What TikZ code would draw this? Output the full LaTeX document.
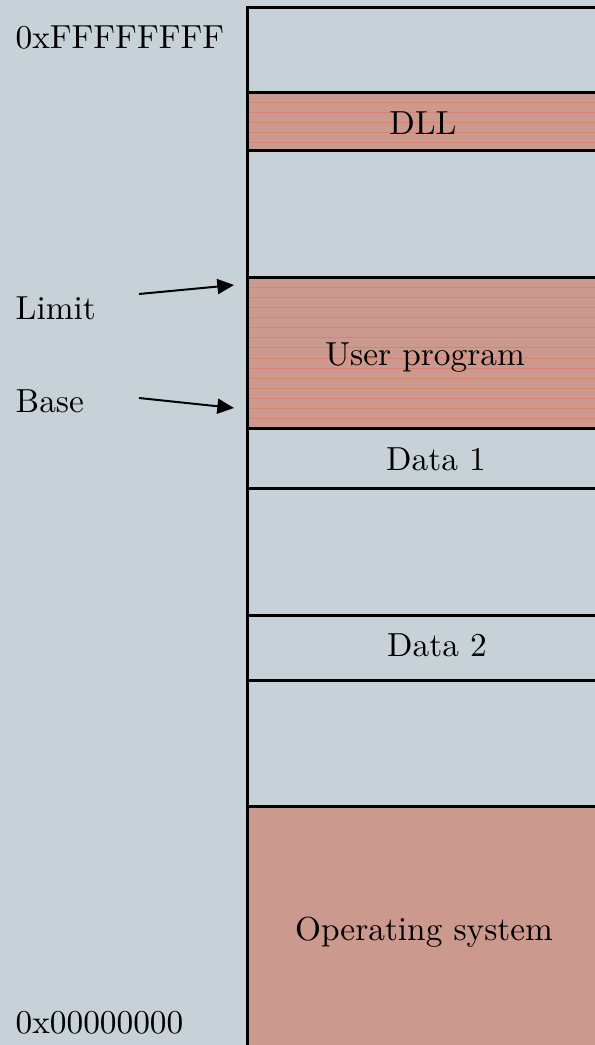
\documentclass[tikz,border=0pt]{standalone}
\usetikzlibrary{arrows.meta}
\definecolor{slate}{HTML}{C6D2D8}
\definecolor{rust}{HTML}{CC998F}
\definecolor{stripe}{HTML}{D98272}

\begin{document}
\begin{tikzpicture}[x=0.3pt, y=-0.3pt,
  slot/.style={draw=black, line width=0.9pt},
  used/.style={slot, fill=rust},
  lbl/.style={anchor=base, inner sep=0pt},
  addr/.style={anchor=base west, inner sep=0pt},
  ptr/.style={-{Triangle[length=5pt,width=4.5pt]}, line width=0.6pt}]
\useasboundingbox (0,0) rectangle (595,1045);
\fill[slate] (0,0) rectangle (595,1045);

% the address space
\draw[slot] (247,8) rectangle (610,93);
\fill[rust] (247,93) rectangle (610,151);
\fill[rust] (247,278) rectangle (610,428);
\foreach \y in {103,113,...,143} \draw[stripe, line width=0.3pt] (249,\y) -- (610,\y);
\foreach \y in {288,298,...,420} \draw[stripe, line width=0.3pt] (249,\y) -- (610,\y);
\draw[slot] (247,93) rectangle (610,151);
\draw[slot] (247,151) rectangle (610,278);
\draw[slot] (247,278) rectangle (610,428);
\draw[slot] (247,428) rectangle (610,488);
\draw[slot] (247,488) rectangle (610,615);
\draw[slot] (247,615) rectangle (610,680);
\draw[slot] (247,680) rectangle (610,806);
\draw[used] (247,806) rectangle (610,1060);

\node[lbl] (dll) at (423,135) {DLL};
\node[lbl] (user) at (425,366) {User program};
\node[lbl] (data1) at (436,470) {Data 1};
\node[lbl] (data2) at (437,656) {Data 2};
\node[lbl] (os) at (424,940) {Operating system};

% addresses and registers
\node[addr] (top) at (15,49) {0xFFFFFFFF};
\node[addr] (bottom) at (15,1033) {0x00000000};
\node[addr] (limit) at (15,319) {Limit};
\node[addr] (base) at (15,412) {Base};

\coordinate (limit tail) at (139,294);
\coordinate (limit tip) at (234,285);
\coordinate (base tail) at (139,398);
\coordinate (base tip) at (234,408);
\draw[ptr] (limit tail) -- (limit tip);
\draw[ptr] (base tail) -- (base tip);
\end{tikzpicture}
\end{document}
